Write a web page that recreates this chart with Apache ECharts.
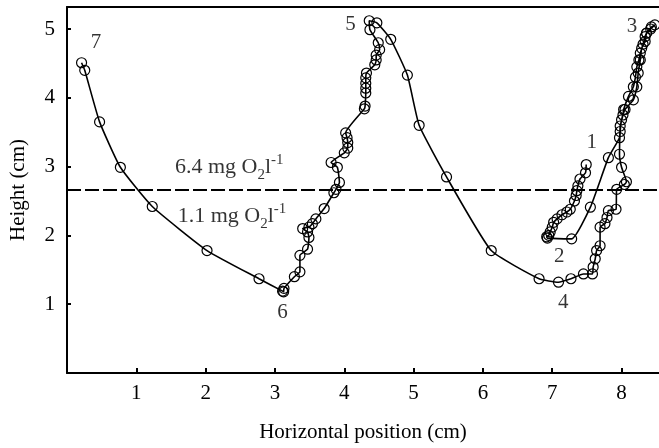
<!doctype html>
<html lang="en">
<head>
    <meta charset="UTF-8">
    <title>Height vs horizontal position</title>
    <script src="https://cdn.jsdelivr.net/npm/echarts@6/dist/echarts.min.js"></script>
    <style>
        html, body { margin: 0; padding: 0; background: #fff; }
    </style>
</head>
<body>

<div id="main" style="width: 659px;height:448px;"></div>
<script type="text/javascript">

    // trajectory, in order from point 1 to point 7: [x (cm), y (cm)]
    var track1to2 = [
        [7.49, 3.03], [7.48, 2.91], [7.40, 2.82], [7.37, 2.72], [7.355, 2.65], [7.345, 2.58],
        [7.32, 2.50], [7.26, 2.38], [7.21, 2.34], [7.14, 2.30], [7.07, 2.24], [7.02, 2.19],
        [7.00, 2.12], [6.97, 2.05], [6.95, 2.00], [6.92, 1.98], [6.93, 1.96]
    ];
    var track2to3 = [
        [7.28, 1.95], [7.55, 2.41], [7.81, 3.13], [7.97, 3.42], [7.98, 3.59], [8.02, 3.75],
        [8.03, 3.83], [8.10, 4.02], [8.17, 4.16], [8.20, 4.30], [8.22, 4.45], [8.25, 4.55],
        [8.27, 4.65], [8.31, 4.78], [8.34, 4.89], [8.36, 4.94], [8.42, 5.00], [8.48, 5.06]
    ];
    var track3to4 = [
        [8.43, 5.03], [8.36, 4.94], [8.34, 4.82], [8.29, 4.72], [8.27, 4.55], [8.24, 4.36],
        [8.22, 4.16], [8.17, 3.97], [8.05, 3.83], [8.00, 3.68], [7.98, 3.51], [7.97, 3.18],
        [8.00, 2.99], [8.07, 2.78], [8.04, 2.74], [7.93, 2.67], [7.92, 2.38], [7.81, 2.36],
        [7.79, 2.26], [7.76, 2.17], [7.69, 2.12], [7.69, 1.85], [7.64, 1.78], [7.62, 1.66],
        [7.59, 1.54], [7.58, 1.44]
    ];
    var track4to5 = [
        [7.45, 1.44], [7.27, 1.37], [7.09, 1.32], [6.81, 1.37], [6.12, 1.78], [5.475, 2.85],
        [5.08, 3.60], [4.91, 4.33], [4.67, 4.85], [4.47, 5.09], [4.36, 5.12]
    ];
    var track5to6 = [
        [4.37, 4.99], [4.49, 4.80], [4.51, 4.70], [4.46, 4.62], [4.46, 4.55], [4.44, 4.48],
        [4.32, 4.36], [4.31, 4.29], [4.31, 4.21], [4.31, 4.14], [4.31, 4.07], [4.30, 3.88],
        [4.29, 3.84], [4.02, 3.49], [4.04, 3.42], [4.05, 3.35], [4.05, 3.27], [4.00, 3.20],
        [3.81, 3.06], [3.90, 2.99], [3.93, 2.77], [3.88, 2.67], [3.85, 2.62], [3.71, 2.39],
        [3.59, 2.24], [3.54, 2.17], [3.49, 2.12], [3.40, 2.10], [3.47, 2.05], [3.49, 1.97],
        [3.47, 1.80], [3.36, 1.71], [3.36, 1.47], [3.28, 1.40], [3.13, 1.23], [3.125, 1.18],
        [3.11, 1.19]
    ];
    var track6to7 = [
        [2.77, 1.37], [2.02, 1.78], [1.23, 2.42], [0.77, 2.99], [0.47, 3.65], [0.256, 4.40],
        [0.21, 4.51]
    ];

    // sequence labels 1..7 and where they sit
    var stepNames = ['1', '2', '3', '4', '5', '6', '7'];
    var stepPos = [[7.57, 3.35], [7.10, 1.69], [8.15, 5.03], [7.16, 1.02], [4.09, 5.06], [3.11, 0.88], [0.42, 4.80]];

    // oxygen boundary
    var boundaryY = 2.66;
    var oxygenText = ['6.4', '1.1'];
    var oxygenPos = [[2.34, 2.99], [2.38, 2.28]];

    var xTicks = [1, 2, 3, 4, 5, 6, 7, 8];
    var yTicks = [1, 2, 3, 4, 5];

    var track = [].concat(track1to2, track2to3, track3to4, track4to5, track5to6, track6to7);

    var font = 'Liberation Serif';

    var chart = echarts.init(document.getElementById('main'));

    option = {
        animation: false,
        textStyle: { fontFamily: font, color: '#000' },
        grid: { left: 66, top: 7, right: 0, bottom: 72, containLabel: false },
        xAxis: [{
            type: 'value',
            min: 0,
            max: 8.54,
            interval: 1,
            name: 'Horizontal position (cm)',
            nameLocation: 'middle',
            nameGap: 49,
            nameTextStyle: { fontFamily: font, fontSize: 21, color: '#000' },
            axisLine: { show: true, onZero: false, lineStyle: { color: '#000', width: 2 } },
            axisTick: { show: true, inside: true, length: 5, lineStyle: { color: '#000', width: 2 } },
            axisLabel: {
                fontFamily: font, fontSize: 21, color: '#000', margin: 10,
                showMinLabel: false, showMaxLabel: false,
                formatter: function (v) { return xTicks.indexOf(v) >= 0 ? String(v) : ''; }
            },
            splitLine: { show: false }
        }, {
            type: 'value',
            position: 'top',
            min: 0,
            max: 8.54,
            axisLine: { show: true, onZero: false, lineStyle: { color: '#000', width: 2 } },
            axisTick: { show: false },
            axisLabel: { show: false },
            splitLine: { show: false }
        }],
        yAxis: {
            type: 'value',
            min: 0,
            max: 5.32,
            interval: 1,
            name: 'Height (cm)',
            nameLocation: 'middle',
            nameGap: 38,
            nameTextStyle: { fontFamily: font, fontSize: 21, color: '#000' },
            axisLine: { show: true, onZero: false, lineStyle: { color: '#000', width: 2 } },
            axisTick: { show: true, inside: true, length: 4, lineStyle: { color: '#000', width: 2 } },
            axisLabel: {
                fontFamily: font, fontSize: 21, color: '#000', margin: 12,
                showMinLabel: false, showMaxLabel: false,
                formatter: function (v) { return yTicks.indexOf(v) >= 0 ? String(v) : ''; }
            },
            splitLine: { show: false }
        },
        series: [
            {
                name: 'track',
                type: 'line',
                data: track,
                smooth: 0.15,
                symbol: 'circle',
                symbolSize: 10,
                lineStyle: { color: '#000', width: 1.6 },
                itemStyle: { color: 'rgba(0,0,0,0)', borderColor: '#000', borderWidth: 1.2 },
                markLine: {
                    silent: true,
                    symbol: ['none', 'none'],
                    label: { show: false },
                    lineStyle: { color: '#000', width: 2, type: [14, 4] },
                    data: [{ yAxis: boundaryY }]
                },
                z: 3
            },
            {
                name: 'steps',
                type: 'scatter',
                symbolSize: 0,
                data: stepNames.map(function (n, i) { return { name: n, value: stepPos[i] }; }),
                label: {
                    show: true,
                    position: 'inside',
                    formatter: '{b}',
                    fontFamily: font,
                    fontSize: 21,
                    color: '#000'
                },
                z: 4
            },
            {
                name: 'oxygen',
                type: 'scatter',
                symbolSize: 0,
                data: oxygenText.map(function (t, i) { return { name: t, value: oxygenPos[i] }; }),
                label: {
                    show: true,
                    position: 'inside',
                    formatter: function (p) {
                        return '{b|' + p.name + ' mg O}{sub|2}{b|l}{sup|-1}';
                    },
                    rich: {
                        b: { fontFamily: font, fontSize: 22, color: '#000', lineHeight: 30, verticalAlign: 'middle' },
                        sub: { fontFamily: font, fontSize: 15, color: '#000', lineHeight: 16, verticalAlign: 'bottom' },
                        sup: { fontFamily: font, fontSize: 15, color: '#000', lineHeight: 16, verticalAlign: 'top' }
                    }
                },
                z: 4
            }
        ]
    };

    chart.setOption(option);

</script>
</body>
</html>
